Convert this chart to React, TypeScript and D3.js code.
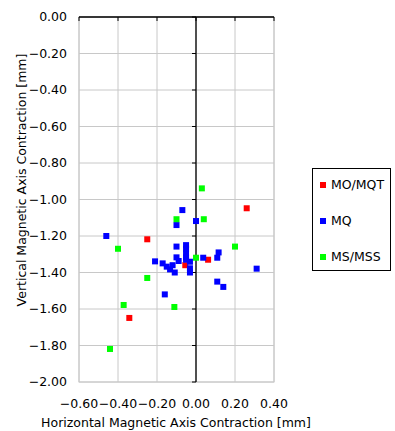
import React from "react";
import * as d3 from "d3";

const xTicks = [-0.6, -0.4, -0.2, 0.0, 0.2, 0.4];
const yTicks = [0, -0.2, -0.4, -0.6, -0.8, -1.0, -1.2, -1.4, -1.6, -1.8, -2.0];

const seriesNames = ["MO/MQT", "MQ", "MS/MSS"];
const seriesColors = ["#ff0000", "#0000ff", "#00ff00"];

const moX = [0.26, -0.25, -0.055, 0.062, -0.342];
const moY = [-1.048, -1.218, -1.36, -1.33, -1.649];

const mqX = [-0.07, 0.0, -0.1, -0.46, -0.1, -0.051, -0.051, -0.051, -0.051, -0.051, -0.1, -0.089, 0.037, 0.109, 0.116, -0.21, -0.171, -0.15, -0.12, -0.133, -0.109, -0.031, -0.031, -0.031, 0.109, -0.16, 0.311, 0.14];
const mqY = [-1.058, -1.118, -1.14, -1.2, -1.258, -1.25, -1.27, -1.295, -1.317, -1.33, -1.317, -1.337, -1.319, -1.319, -1.29, -1.339, -1.35, -1.368, -1.36, -1.383, -1.4, -1.341, -1.377, -1.4, -1.45, -1.52, -1.379, -1.479];

const msX = [0.03, -0.1, 0.04, -0.4, 0.0, -0.25, 0.2, -0.371, -0.111, -0.441];
const msY = [-0.939, -1.108, -1.108, -1.27, -1.319, -1.43, -1.258, -1.578, -1.589, -1.819];

const seriesX = [moX, mqX, msX];
const seriesY = [moY, mqY, msY];

const font = "Tahoma, 'DejaVu Sans', sans-serif";

export default function App() {
  const left = 79, right = 274, top = 17, bottom = 382;
  const x = d3.scaleLinear().domain([-0.6, 0.4]).range([left, right]);
  const y = d3.scaleLinear().domain([0, -2]).range([top, bottom]);
  const ms = 6;
  return (
    <svg width={395} height={431} style={{ position: "absolute", left: 0, top: 0 }} fontFamily={font}>
      <rect x={0} y={0} width={395} height={431} fill="#fff" />
      {xTicks.map((t) => (
        <line key={"gx" + t} x1={x(t)} x2={x(t)} y1={top} y2={bottom} stroke="#c8c8c8" strokeWidth={1} />
      ))}
      {yTicks.map((t) => (
        <line key={"gy" + t} x1={left} x2={right} y1={y(t)} y2={y(t)} stroke="#c8c8c8" strokeWidth={1} />
      ))}
      <rect x={left} y={top} width={right - left} height={bottom - top} fill="none" stroke="#c8c8c8" strokeWidth={1} />
      <line x1={left} x2={right} y1={y(0)} y2={y(0)} stroke="#000" strokeWidth={1.3} />
      <line x1={x(0)} x2={x(0)} y1={top} y2={bottom} stroke="#000" strokeWidth={1.3} />
      {xTicks.map((t) => (
        <line key={"tx" + t} x1={x(t)} x2={x(t)} y1={y(0)} y2={y(0) + 4} stroke="#000" strokeWidth={1} />
      ))}
      {yTicks.map((t) => (
        <line key={"ty" + t} x1={x(0) - 4} x2={x(0)} y1={y(t)} y2={y(t)} stroke="#000" strokeWidth={1} />
      ))}
      {yTicks.map((t) => (
        <text key={"ly" + t} x={67} y={y(t)} dy="0.35em" textAnchor="end" fontSize={12.5} fill="#000">
          {d3.format(".2f")(t)}
        </text>
      ))}
      {xTicks.map((t) => (
        <text key={"lx" + t} x={x(t)} y={404} dy="0.35em" textAnchor="middle" fontSize={12.5} fill="#000">
          {d3.format(".2f")(t)}
        </text>
      ))}
      <text x={176} y={423} dy="0.35em" textAnchor="middle" fontSize={12.5} fill="#000">
        Horizontal Magnetic Axis Contraction [mm]
      </text>
      <text transform={`translate(22,180) rotate(-90)`} textAnchor="middle" dy="0.35em" fontSize={12.5} fill="#000">
        Vertical Magnetic Axis Contraction [mm]
      </text>
      {seriesNames.map((name, si) => (
        <g key={name}>
          {seriesX[si].map((vx, i) => (
            <rect key={i} x={x(vx) - ms / 2} y={y(seriesY[si][i]) - ms / 2} width={ms} height={ms} fill={seriesColors[si]} />
          ))}
        </g>
      ))}
      <rect x={312.5} y={168.5} width={78} height={102} fill="#fff" stroke="#000" strokeWidth={1} />
      {seriesNames.map((name, i) => (
        <g key={"lg" + name}>
          <rect x={320} y={185 + i * 36 - 3} width={6} height={6} fill={seriesColors[i]} />
          <text x={331} y={185 + i * 36} dy="0.35em" fontSize={12.5} fill="#000">{name}</text>
        </g>
      ))}
    </svg>
  );
}
